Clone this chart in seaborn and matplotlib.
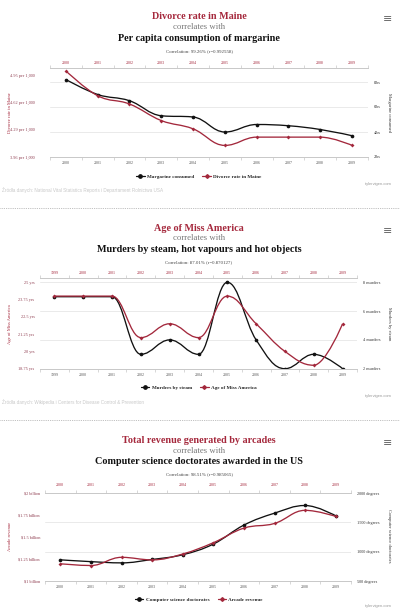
import numpy as np
import pandas as pd
import matplotlib
matplotlib.use("Agg")
import matplotlib.pyplot as plt
import seaborn as sns
from matplotlib.path import Path
from matplotlib.patches import PathPatch
from matplotlib.lines import Line2D

# ---------------- data ----------------
years1 = [2000, 2001, 2002, 2003, 2004, 2005, 2006, 2007, 2008, 2009]
divorce_rate = [5.0, 4.7, 4.6, 4.4, 4.3, 4.1, 4.2, 4.2, 4.2, 4.1]
margarine = [8.2, 7.0, 6.5, 5.3, 5.2, 4.0, 4.6, 4.5, 4.2, 3.7]
divorce_ticks = [3.96, 4.29, 4.62, 4.95]
divorce_labels = ["3.96 per 1,000", "4.29 per 1,000", "4.62 per 1,000", "4.95 per 1,000"]
margarine_ticks = [2, 4, 6, 8]
margarine_labels = ["2lbs", "4lbs", "6lbs", "8lbs"]

years2 = [1999, 2000, 2001, 2002, 2003, 2004, 2005, 2006, 2007, 2008, 2009]
miss_america_age = [24, 24, 24, 21, 22, 21, 24, 22, 20, 19, 22]
steam_murders = [7, 7, 7, 3, 4, 3, 8, 4, 2, 3, 2]
age_ticks = [18.75, 20, 21.25, 22.5, 23.75, 25]
age_labels = ["18.75 yrs", "20 yrs", "21.25 yrs", "22.5 yrs", "23.75 yrs", "25 yrs"]
murder_ticks = [2, 4, 6, 8]
murder_labels = ["2 murders", "4 murders", "6 murders", "8 murders"]

years3 = [2000, 2001, 2002, 2003, 2004, 2005, 2006, 2007, 2008, 2009]
arcade_revenue = [1.196, 1.176, 1.269, 1.240, 1.307, 1.435, 1.601, 1.654, 1.803, 1.734]
cs_doctorates = [861, 830, 809, 867, 948, 1129, 1453, 1656, 1787, 1611]
arcade_ticks = [1, 1.25, 1.5, 1.75, 2]
arcade_labels = ["$1 billion", "$1.25 billion", "$1.5 billion", "$1.75 billion", "$2 billion"]
degree_ticks = [500, 1000, 1500, 2000]
degree_labels = ["500 degrees", "1000 degrees", "1500 degrees", "2000 degrees"]

# ---------------- style ----------------
sns.set_theme(style="white")
plt.rcParams["font.family"] = ["Liberation Serif", "DejaVu Serif"]

RED = "#a3283c"
TITLE_RED = "#a5283c"
LEFT_LBL = "#8e3b4e"
BLACK = "#111111"
AXIS_C = "#c8c8c8"
GRID_C = "#e6e6e6"

W, H = 400, 612
fig = plt.figure(figsize=(W / 100, H / 100), dpi=100)
fig.patch.set_facecolor("white")


def fx(x):
    return x / W


def fy(y):
    return 1 - y / H


def spline_path(xs, ys):
    """Highcharts-style spline rendering through the given points."""
    n = len(xs)
    rc = [None] * n
    verts = [(xs[0], ys[0])]
    codes = [Path.MOVETO]
    sm = 1.5
    den = sm + 1
    for i in range(1, n):
        px, py = xs[i], ys[i]
        lcx, lcy = px, py
        if i < n - 1:
            lx, ly = xs[i - 1], ys[i - 1]
            nx, ny = xs[i + 1], ys[i + 1]
            lcx = (sm * px + lx) / den
            lcy = (sm * py + ly) / den
            rcx = (sm * px + nx) / den
            rcy = (sm * py + ny) / den
            corr = ((rcy - lcy) * (rcx - px)) / (rcx - lcx) + py - rcy
            lcy += corr
            rcy += corr
            if lcy > ly and lcy > py:
                lcy = max(ly, py)
                rcy = 2 * py - lcy
            elif lcy < ly and lcy < py:
                lcy = min(ly, py)
                rcy = 2 * py - lcy
            if rcy > ny and rcy > py:
                rcy = max(ny, py)
                lcy = 2 * py - rcy
            elif rcy < ny and rcy < py:
                rcy = min(ny, py)
                lcy = 2 * py - rcy
            rc[i] = (rcx, rcy)
        c1 = rc[i - 1] if rc[i - 1] is not None else (xs[i - 1], ys[i - 1])
        verts += [c1, (lcx, lcy), (px, py)]
        codes += [Path.CURVE4] * 3
    return Path(verts, codes)


def panel(rect, years, xlim, left_vals, right_vals, left_lim, right_lim,
          left_ticks, left_labels, right_ticks, right_labels,
          left_pad, top_pad, bottom_pad):
    ax = fig.add_axes(rect)
    ax2 = ax.twinx()
    ax.set_zorder(ax2.get_zorder() + 1)
    ax.patch.set_visible(False)

    df = pd.DataFrame({"year": years, "left": left_vals, "right": right_vals})

    # right-axis series (black)
    ax2.add_patch(PathPatch(spline_path(years, right_vals), fill=False,
                            edgecolor=BLACK, lw=0.95, zorder=2))
    sns.scatterplot(data=df, x="year", y="right", ax=ax2, marker="o", s=7,
                    color=BLACK, edgecolor=BLACK, linewidth=0, zorder=3, legend=False)
    # left-axis series (red)
    ax.add_patch(PathPatch(spline_path(years, left_vals), fill=False,
                           edgecolor=RED, lw=0.95, zorder=2))
    sns.scatterplot(data=df, x="year", y="left", ax=ax, marker="D", s=4,
                    color=RED, edgecolor=RED, linewidth=0, zorder=3, legend=False)

    ax.set_xlim(*xlim)
    ax.set_ylim(*left_lim)
    ax2.set_ylim(*right_lim)

    ax.set_yticks(left_ticks)
    ax.set_yticklabels(left_labels)
    ax.tick_params(axis="y", length=0, pad=left_pad, labelsize=3.1, labelcolor=LEFT_LBL)
    ax2.set_yticks(right_ticks)
    ax2.set_yticklabels(right_labels)
    ax2.tick_params(axis="y", length=0, pad=4.2, labelsize=3.1, labelcolor="#333333")
    ax2.grid(axis="y", color=GRID_C, lw=0.6)
    ax2.grid(axis="x", visible=False)
    ax.grid(False)
    ax2.set_axisbelow(True)
    ax.set_xlabel("")
    ax.set_ylabel("")
    ax2.set_ylabel("")

    bounds = [y - 0.5 for y in years] + [years[-1] + 0.5]
    ax.set_xticks(years)
    ax.set_xticklabels([str(y) for y in years])
    ax.set_xticks(bounds, minor=True)
    ax.tick_params(axis="x", which="major", length=0, pad=bottom_pad,
                   labelsize=2.9, labelcolor="#555555")
    ax.tick_params(axis="x", which="minor", length=2.5, width=0.5,
                   color=AXIS_C, direction="out", bottom=True)

    for s in ["left", "right", "top"]:
        ax.spines[s].set_visible(False)
    ax.spines["bottom"].set_color(AXIS_C)
    ax.spines["bottom"].set_linewidth(0.7)
    for s in ax2.spines.values():
        s.set_visible(False)

    sec = ax.secondary_xaxis("top")
    sec.set_xticks(years)
    sec.set_xticklabels([str(y) for y in years])
    sec.set_xticks(bounds, minor=True)
    sec.tick_params(axis="x", which="major", length=0, pad=top_pad,
                    labelsize=2.9, labelcolor=TITLE_RED)
    sec.tick_params(axis="x", which="minor", length=2.5, width=0.5,
                    color=AXIS_C, direction="out", top=True)
    sec.spines["top"].set_color(AXIS_C)
    sec.spines["top"].set_linewidth(0.7)
    return ax, ax2


def header(y_red, y_corr_with, y_bold, y_corr, red_title, bold_title, corr_text, menu_y):
    fig.text(fx(199), fy(y_red), red_title, ha="center", va="center",
             fontsize=7.3, fontweight="bold", color=TITLE_RED)
    fig.text(fx(199), fy(y_corr_with), "correlates with", ha="center", va="center",
             fontsize=6.3, color="#777777")
    fig.text(fx(199), fy(y_bold), bold_title, ha="center", va="center",
             fontsize=7.3, fontweight="bold", color=BLACK)
    fig.text(fx(199), fy(y_corr), corr_text, ha="center", va="center",
             fontsize=3.5, color="#444444")
    fig.text(fx(388), fy(menu_y), "\u2261", ha="center", va="center",
             fontsize=8, color="#666666", family="DejaVu Sans")


def legend(y, names):
    handles = [Line2D([], [], color=BLACK, marker="o", ms=2.4, lw=0.9),
               Line2D([], [], color=RED, marker="D", ms=1.9, lw=0.9)]
    fig.legend(handles=handles, labels=names, loc="center",
               bbox_to_anchor=(fx(199), fy(y)), ncol=2, frameon=False,
               prop={"family": "Liberation Serif", "weight": "bold", "size": 3.7},
               handlelength=1.6, columnspacing=1.6, handletextpad=0.5,
               borderpad=0, borderaxespad=0)


def axis_titles(y, left_title, right_title):
    fig.text(fx(10), fy(y), left_title, rotation=90, ha="center", va="center",
             fontsize=3.3, color=TITLE_RED)
    fig.text(fx(389), fy(y), right_title, rotation=270, ha="center", va="center",
             fontsize=3.3, color="#333333")


def separator(y):
    fig.add_artist(Line2D([0, 1], [fy(y), fy(y)], transform=fig.transFigure,
                          color="#aaaaaa", lw=0.6, linestyle=(0, (1, 1.2))))


# ---------------- panel 1 ----------------
header(16.7, 26.7, 38.3, 50.7, "Divorce rate in Maine",
       "Per capita consumption of margarine", "Correlation: 99.26% (r=0.992558)", 19.3)
panel([fx(50), fy(157), 318 / W, 89 / H], years1, (1999.5, 2009.5),
      divorce_rate, margarine, (3.96, 5.035), (2, 9.12),
      divorce_ticks, divorce_labels, margarine_ticks, margarine_labels,
      left_pad=11.0, top_pad=2.5, bottom_pad=2.8)
axis_titles(113, "Divorce rate in Maine", "Margarine consumed")
legend(176.3, ["Margarine consumed", "Divorce rate in Maine"])
fig.text(fx(2), fy(190), "Źródła danych: National Vital Statistics Reports i Departament Rolnictwa USA",
         ha="left", va="center", fontsize=3.3, color="#c8c8c8", family="Liberation Sans")
fig.text(fx(391), fy(184), "tylervigen.com", ha="right", va="center",
         fontsize=2.9, color="#999999", family="Liberation Sans")
separator(208.3)

# ---------------- panel 2 ----------------
header(228.7, 238.3, 250, 262.3, "Age of Miss America",
       "Murders by steam, hot vapours and hot objects", "Correlation: 87.01% (r=0.870127)", 231)
panel([fx(40), fy(368.7), 317 / W, 90.7 / H], years2, (1998.5, 2009.5),
      miss_america_age, steam_murders, (18.75, 25.31), (2, 8.3),
      age_ticks, age_labels, murder_ticks, murder_labels,
      left_pad=4.0, top_pad=1.8, bottom_pad=2.8)
axis_titles(324, "Age of Miss America", "Murders by steam")
legend(387.7, ["Murders by steam", "Age of Miss America"])
fig.text(fx(2), fy(402.3), "Źródła danych: Wikipedia i Centers for Disease Control & Prevention",
         ha="left", va="center", fontsize=3.3, color="#c8c8c8", family="Liberation Sans")
fig.text(fx(391), fy(395.7), "tylervigen.com", ha="right", va="center",
         fontsize=2.9, color="#999999", family="Liberation Sans")
separator(420)

# ---------------- panel 3 ----------------
header(440.7, 450.7, 461.7, 474, "Total revenue generated by arcades",
       "Computer science doctorates awarded in the US", "Correlation: 98.51% (r=0.985065)", 442.7)
panel([fx(45), fy(581), 306 / W, 88 / H], years3, (1999.5, 2009.5),
      arcade_revenue, cs_doctorates, (1, 2), (500, 2000),
      arcade_ticks, arcade_labels, degree_ticks, degree_labels,
      left_pad=3.6, top_pad=4.0, bottom_pad=2.8)
axis_titles(536, "Arcade revenue", "Computer science doctorates")
legend(599.7, ["Computer science doctorates", "Arcade revenue"])
fig.text(fx(391), fy(605.7), "tylervigen.com", ha="right", va="center",
         fontsize=2.9, color="#999999", family="Liberation Sans")

fig.savefig("out.png", dpi=100, facecolor="white")
